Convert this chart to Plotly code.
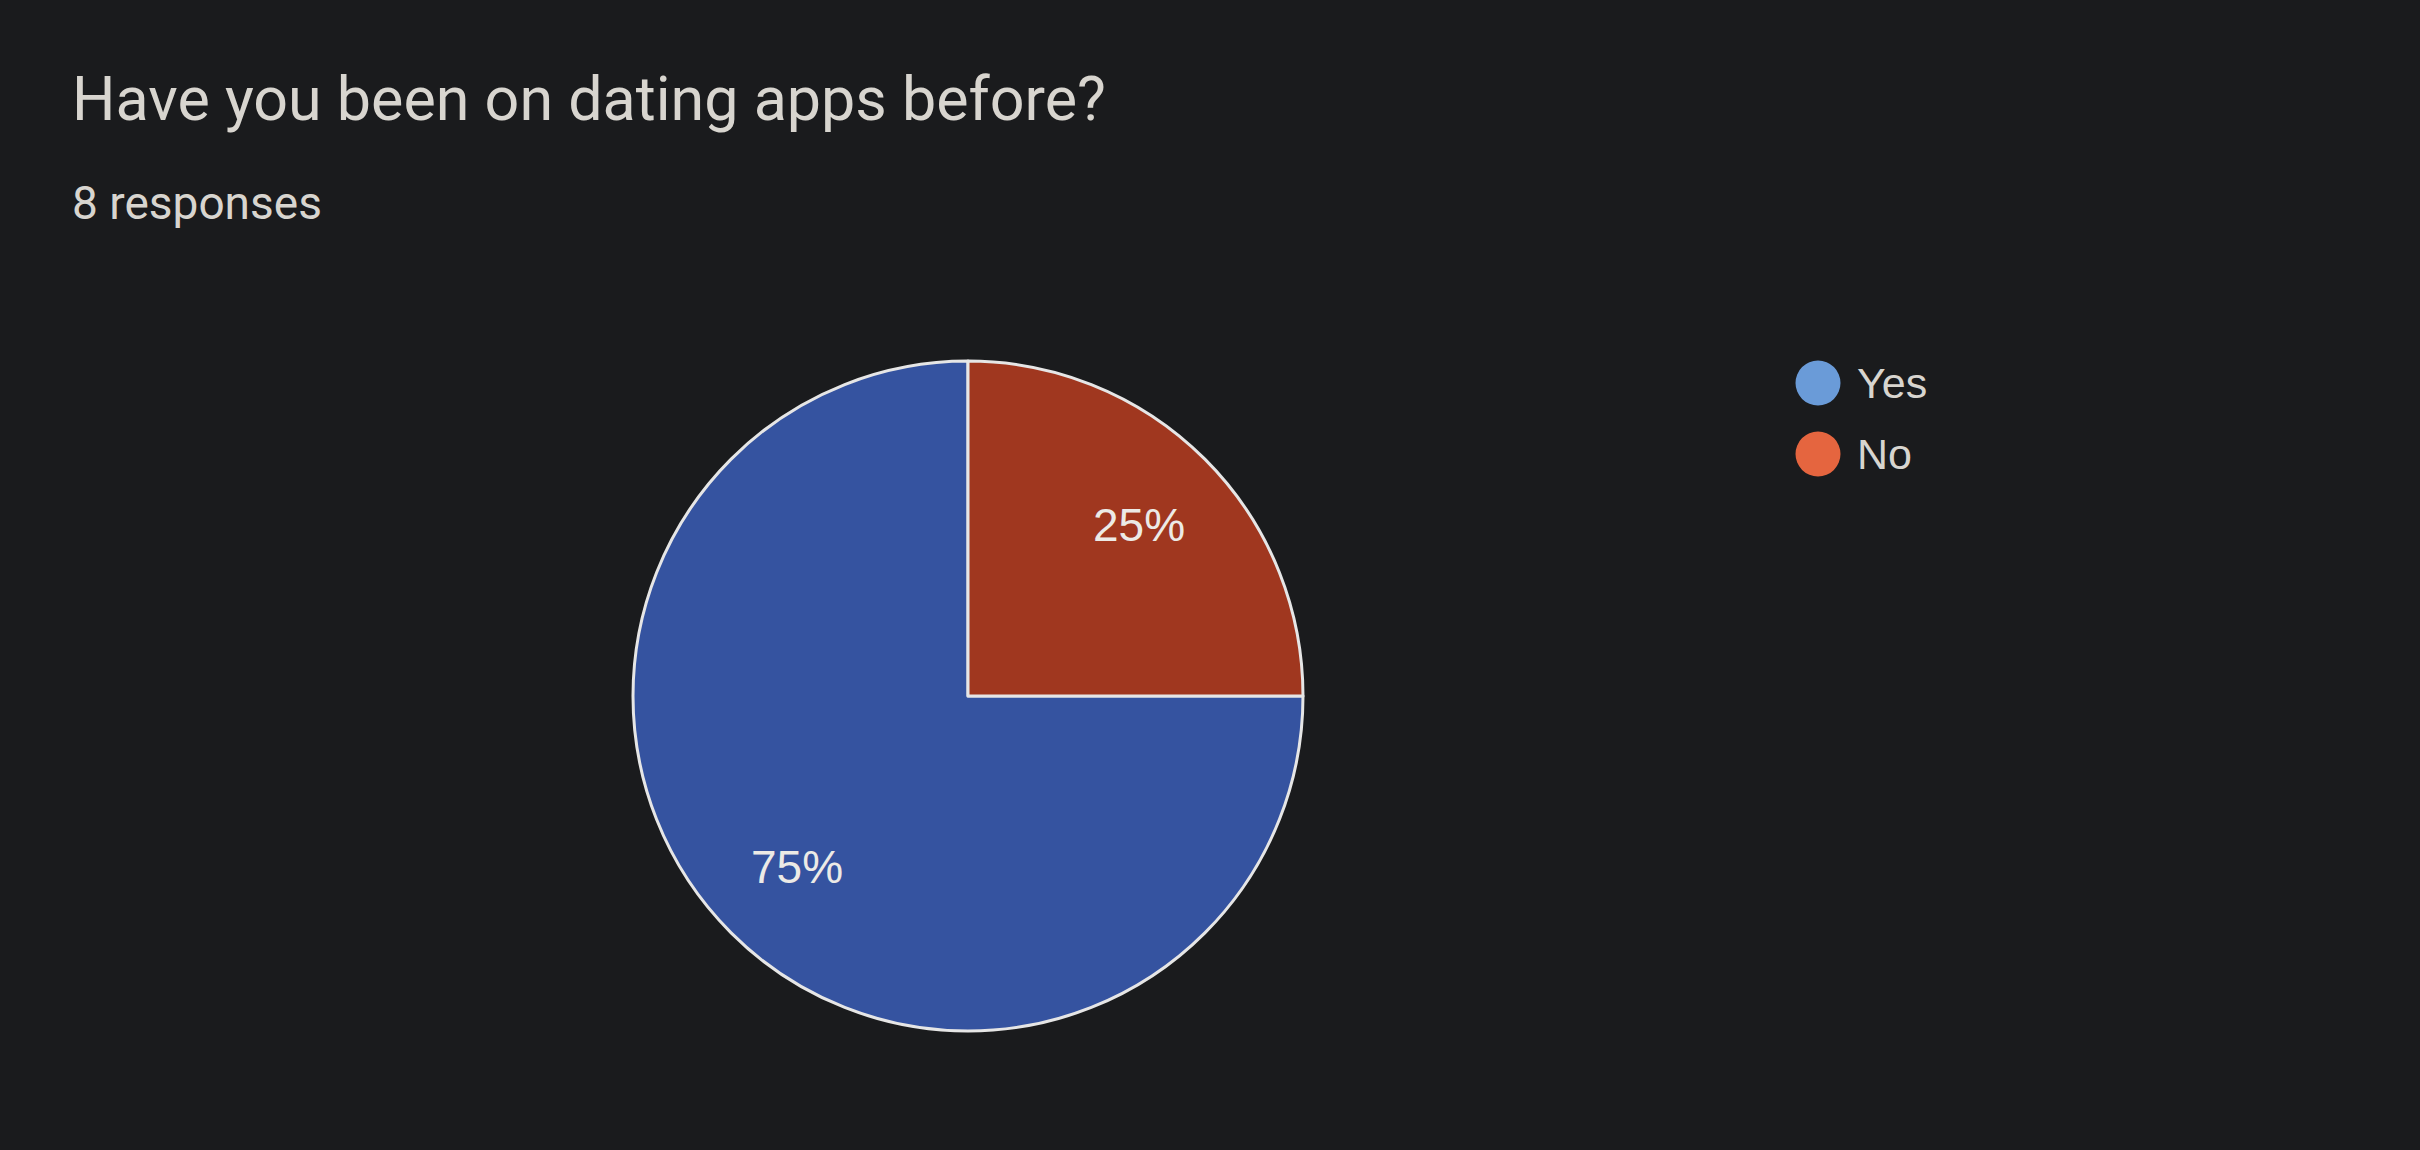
import math
import plotly.graph_objects as go

# ---- data ----
categories = ["Yes", "No"]
counts = [6, 2]
slice_colors = ["#3553A0", "#A0371F"]
legend_colors = ["#6A9BD8", "#E5653F"]
title_text = "Have you been on dating apps before?"
subtitle_text = "8 responses"

W, H = 2420, 1150
BG = "#1A1B1D"
TXT = "#D8D5CF"

fig = go.Figure()

# pie geometry (pixels)
cx, cy, r = 968, 696, 335
fig.add_trace(go.Pie(
    labels=categories,
    values=counts,
    sort=False,
    direction="clockwise",
    rotation=90,
    marker=dict(colors=slice_colors, line=dict(color="#E6E6E6", width=3)),
    textinfo="none",
    showlegend=False,
    hoverinfo="label+percent",
    domain=dict(x=[(cx - r) / W, (cx + r) / W], y=[1 - (cy + r) / H, 1 - (cy - r) / H]),
))

annotations = [
    dict(text=title_text, x=70 / W, y=1 - 99 / H, xref="paper", yref="paper",
         xanchor="left", yanchor="middle", showarrow=False,
         font=dict(family="Roboto", size=61, color=TXT)),
    dict(text=subtitle_text, x=70 / W, y=1 - 203 / H, xref="paper", yref="paper",
         xanchor="left", yanchor="middle", showarrow=False,
         font=dict(family="Roboto", size=46, color=TXT)),
]

# percentage labels placed at each slice's mid-angle (slices run counterclockwise from 12 o'clock)
total = sum(counts)
start = 90.0
for v in counts:
    span = 360.0 * v / total
    mid = math.radians(start + span / 2)
    start += span
    px = cx + 0.72 * r * math.cos(mid)
    py = cy - 0.72 * r * math.sin(mid)
    annotations.append(dict(text=f"{round(100 * v / total)}%", x=px / W, y=1 - py / H,
                            xref="paper", yref="paper", xanchor="center", yanchor="middle",
                            showarrow=False,
                            font=dict(family="Arial, Liberation Sans", size=46, color="#ECEAE6")))

shapes = []
leg_x, leg_y0, leg_dy, rad = 1818, 383, 71, 22.5
for i, (cat, col) in enumerate(zip(categories, legend_colors)):
    yc = leg_y0 + i * leg_dy
    shapes.append(dict(type="circle", xref="paper", yref="paper",
                       x0=(leg_x - rad) / W, x1=(leg_x + rad) / W,
                       y0=1 - (yc + rad) / H, y1=1 - (yc - rad) / H,
                       fillcolor=col, line=dict(width=0)))
    annotations.append(dict(text=cat, x=(leg_x + 37) / W, y=1 - yc / H,
                            xref="paper", yref="paper", xanchor="left", yanchor="middle",
                            showarrow=False,
                            font=dict(family="Arial, Liberation Sans", size=43, color=TXT)))

fig.update_layout(
    width=W, height=H,
    margin=dict(l=0, r=0, t=0, b=0),
    paper_bgcolor=BG, plot_bgcolor=BG,
    annotations=annotations,
    shapes=shapes,
)

fig.write_html("out.html", config={"displayModeBar": False})
